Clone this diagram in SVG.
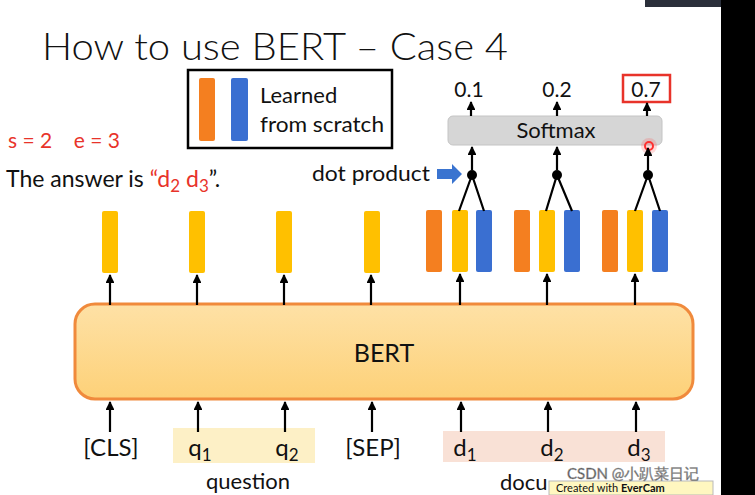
<svg xmlns="http://www.w3.org/2000/svg" width="755" height="495" viewBox="0 0 755 495">
<style>
text{font-family:Lato,"Open Sans","Liberation Sans",sans-serif;fill:#111}
.lbl{font-size:24px}
.red{fill:#e8332a}
.y{fill:#ffc000}
.o{fill:#f47f20}
.b{fill:#3a6fd1}
.c{stroke:#000;stroke-width:2.2;fill:none}
.ca{stroke:#000;stroke-width:2.2;fill:none;marker-end:url(#ah)}
</style>
<defs>
<marker id="ah" viewBox="0 0 10 10" refX="9" refY="5" markerWidth="4" markerHeight="4" orient="auto" markerUnits="strokeWidth">
<path d="M0,0 L10,5 L0,10 z" fill="#000"/>
</marker>
<linearGradient id="bg" x1="0" y1="0" x2="0" y2="1">
<stop offset="0" stop-color="#fee1a6"/>
<stop offset="1" stop-color="#fdd178"/>
</linearGradient>
</defs>
<rect width="755" height="495" fill="#fff"/>
<rect x="721" y="0" width="34" height="495" fill="#000"/>
<rect x="645" y="0" width="76" height="7" fill="#2a2f3a"/>

<g id="title"><text x="42" y="60" font-size="38" font-weight="300" textLength="466" lengthAdjust="spacingAndGlyphs">How to use BERT – Case 4</text></g>

<g id="legend">
<rect x="188" y="70" width="204" height="78" fill="#fff" stroke="#000" stroke-width="2.5"/>
<rect x="199" y="78" width="16" height="63" rx="2" class="o"/>
<rect x="231" y="78" width="17" height="63" rx="2" class="b"/>
<text x="260" y="103" font-size="22">Learned</text>
<text x="260" y="132" font-size="22" textLength="124" lengthAdjust="spacingAndGlyphs">from scratch</text>
</g>

<g id="answer">
<text x="8" y="148" font-size="21" class="red" xml:space="preserve">s = 2    e = 3</text>
<text x="6" y="187" font-size="23">The answer is <tspan class="red">“d<tspan font-size="17" dy="5">2</tspan><tspan dy="-5"> d</tspan><tspan font-size="17" dy="5">3</tspan></tspan><tspan dy="-5">”.</tspan></text>
</g>

<g id="softmax">
<rect x="448" y="116" width="214" height="29" rx="5" fill="#d6d6d6" stroke="#c4c4c4"/>
<text x="556" y="138" font-size="22" text-anchor="middle">Softmax</text>
</g>
<g id="probs">
<text x="469" y="97" font-size="21" text-anchor="middle">0.1</text>
<text x="557" y="97" font-size="21" text-anchor="middle">0.2</text>
<rect x="623" y="75" width="47" height="27" fill="none" stroke="#e8332a" stroke-width="2.5"/>
<text x="646" y="97" font-size="21" text-anchor="middle">0.7</text>
</g>
<g id="dotproduct">
<text x="312" y="181" font-size="22" textLength="118" lengthAdjust="spacingAndGlyphs">dot product</text>
<path d="M437,169 H452 V164 L462,174 L452,184 V179 H437 z" fill="#3a74d0"/>
</g>
<g id="pointer"><circle cx="649" cy="146" r="4" fill="none" stroke="#ff2a2a" stroke-width="2"/><circle cx="649" cy="146" r="8" fill="#ff4040" opacity="0.2"/></g>

<g id="outputs">
<rect x="102" y="211" width="16" height="62" rx="2" class="y"/>
<rect x="189" y="211" width="16" height="62" rx="2" class="y"/>
<rect x="276" y="211" width="16" height="62" rx="2" class="y"/>
<rect x="364" y="211" width="16" height="62" rx="2" class="y"/>
<rect x="426" y="210" width="16" height="62" rx="2" class="o"/>
<rect x="452" y="210" width="16" height="62" rx="2" class="y"/>
<rect x="476" y="210" width="16" height="62" rx="2" class="b"/>
<rect x="514" y="210" width="16" height="62" rx="2" class="o"/>
<rect x="539" y="210" width="16" height="62" rx="2" class="y"/>
<rect x="564" y="210" width="16" height="62" rx="2" class="b"/>
<rect x="602" y="210" width="16" height="62" rx="2" class="o"/>
<rect x="627" y="210" width="16" height="62" rx="2" class="y"/>
<rect x="652" y="210" width="16" height="62" rx="2" class="b"/>
</g>

<g id="bert">
<rect x="75" y="304" width="618" height="95" rx="20" fill="url(#bg)" stroke="#f08a3c" stroke-width="3"/>
<text x="384" y="362" font-size="25" text-anchor="middle">BERT</text>
</g>

<g id="inputs">
<rect x="173" y="428" width="142" height="35" fill="#fdf0c6"/>
<rect x="443" y="431" width="222" height="31" fill="#f9e1d6"/>
<text x="111" y="456" class="lbl" text-anchor="middle">[CLS]</text>
<text x="200" y="456" class="lbl" text-anchor="middle">q<tspan font-size="17" dy="5">1</tspan></text>
<text x="287" y="456" class="lbl" text-anchor="middle">q<tspan font-size="17" dy="5">2</tspan></text>
<text x="373" y="456" class="lbl" text-anchor="middle">[SEP]</text>
<text x="465" y="456" class="lbl" text-anchor="middle">d<tspan font-size="17" dy="5">1</tspan></text>
<text x="552" y="456" class="lbl" text-anchor="middle">d<tspan font-size="17" dy="5">2</tspan></text>
<text x="639" y="456" class="lbl" text-anchor="middle">d<tspan font-size="17" dy="5">3</tspan></text>
<text x="248" y="489" font-size="22" text-anchor="middle">question</text>
<text x="500" y="490" font-size="22">docu</text>
</g>

<g id="connectors">
<path class="ca" d="M110,305 V275"/>
<path class="ca" d="M197,305 V275"/>
<path class="ca" d="M284,305 V275"/>
<path class="ca" d="M371,305 V275"/>
<path class="ca" d="M460,305 V274"/>
<path class="ca" d="M547,305 V274"/>
<path class="ca" d="M635,305 V274"/>
<path class="ca" d="M110,432 V402"/>
<path class="ca" d="M198,432 V402"/>
<path class="ca" d="M285,432 V402"/>
<path class="ca" d="M372,432 V402"/>
<path class="ca" d="M461,432 V402"/>
<path class="ca" d="M548,432 V402"/>
<path class="ca" d="M636,432 V402"/>
<path class="c" d="M459,211 L472,175 L484,211"/>
<path class="c" d="M546,211 L557,175 L572,211"/>
<path class="c" d="M635,211 L648,175 L660,211"/>
<circle cx="472" cy="175" r="5" fill="#000"/>
<circle cx="557" cy="175" r="5" fill="#000"/>
<circle cx="648" cy="175" r="5" fill="#000"/>
<path class="ca" d="M472,170 V147"/>
<path class="ca" d="M557,170 V147"/>
<path class="ca" d="M648,170 V148"/>
<path class="ca" d="M471,116 V102"/>
<path class="ca" d="M557,116 V102"/>
<path class="ca" d="M647,116 V103"/>
</g>

<g id="watermark">
<rect x="549" y="481" width="164" height="14" fill="#fff7c0" stroke="#b9b9b9"/>
<text x="556" y="492" font-size="11" fill="#555">Created with <tspan font-weight="bold">EverCam</tspan></text>
<text x="567" y="479" font-size="15" fill="#ffffff" fill-opacity="0.75" stroke="#9a9a9a" stroke-width="0.5" font-family="'Liberation Sans','Noto Sans CJK SC',sans-serif">CSDN @小趴菜日记</text>
</g>
</svg>
